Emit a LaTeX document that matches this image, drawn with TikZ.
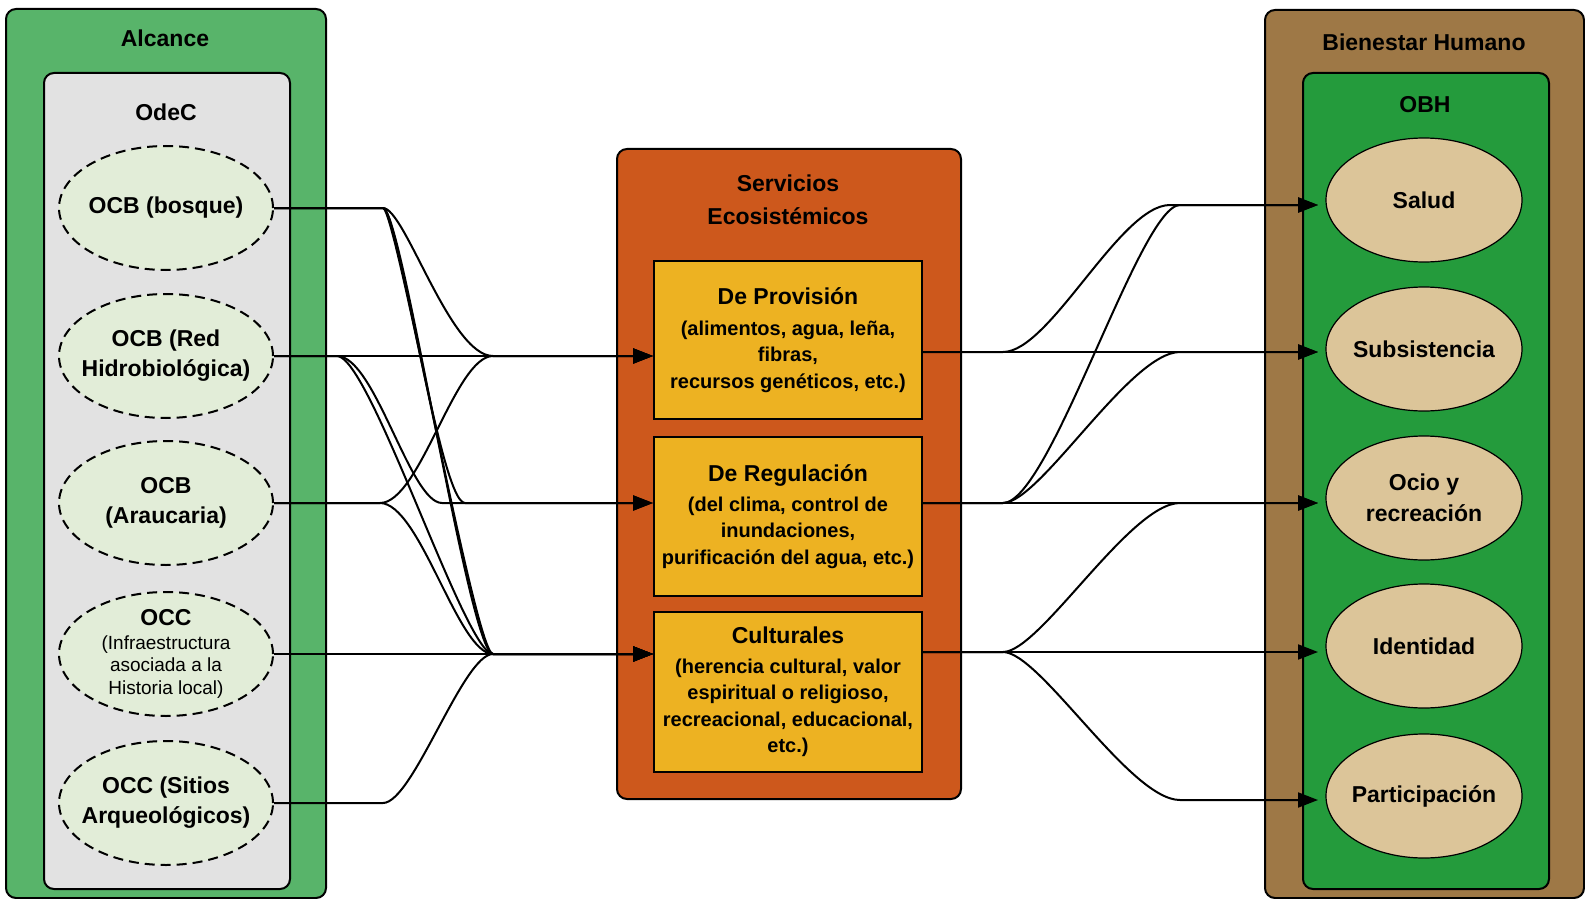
\documentclass[tikz,border=0pt]{standalone}
\usepackage{fontspec}
\setmainfont{Liberation Sans}
\usetikzlibrary{arrows.meta,shapes.geometric,calc}

\definecolor{alcgreen}{RGB}{88,180,106}
\definecolor{odecgrey}{RGB}{226,226,226}
\definecolor{srcfill}{RGB}{226,237,216}
\definecolor{seorange}{RGB}{205,88,28}
\definecolor{seyellow}{RGB}{237,178,34}
\definecolor{bhbrown}{RGB}{158,120,70}
\definecolor{obhgreen}{RGB}{36,155,60}
\definecolor{tan}{RGB}{220,197,153}

% font switches used inside multi-line nodes
\newcommand\svctitle{\bfseries\fontsize{11.5}{13.3}\selectfont}
\newcommand\smallnote{\mdseries\fontsize{9.5}{11.25}\selectfont}

\tikzset{
  panel/.style={draw=black, line width=1pt, rounded corners=5pt, inner sep=0pt, anchor=north west},
  svcbox/.style={draw=black, line width=1pt, fill=seyellow, inner sep=0pt, align=center,
    minimum width=134pt, font=\bfseries\fontsize{10}{13.3}\selectfont},
  heading/.style={font=\bfseries\fontsize{11.5}{16.5}\selectfont, align=center, inner sep=0pt},
  srcell/.style={ellipse, draw=black, dashed, dash pattern=on 5pt off 3pt, line width=1pt,
    fill=srcfill, minimum width=107pt, minimum height=62pt, inner xsep=-8pt, inner ysep=-4pt,
    align=center, font=\bfseries\fontsize{11.5}{15}\selectfont},
  bhell/.style={ellipse, draw=black, line width=0.6pt, fill=tan, minimum width=98pt,
    minimum height=62pt, inner xsep=-6pt, inner ysep=-4pt, align=center,
    font=\bfseries\fontsize{11.5}{15.5}\selectfont},
  conn/.style={draw=black, line width=1pt, -{Triangle[length=10pt,width=7.5pt]}},
}

\begin{document}
\begin{tikzpicture}[x=0.5pt,y=-0.5pt]
\useasboundingbox (0,0) rectangle (1585,899);

% ---------- left column: Alcance / OdeC ----------
\node[panel, fill=alcgreen, minimum width=160pt, minimum height=444.5pt] (alcance) at (5,8) {};
\node[heading] (alcanceT) at (165,38) {Alcance};
\node[panel, fill=odecgrey, minimum width=123pt, minimum height=408pt] (odec) at (43,72) {};
\node[heading] (odecT) at (166,112) {OdeC};

\node[srcell] (e1) at (166,208) {OCB (bosque)};
\node[srcell] (e2) at (166,356) {OCB (Red\\Hidrobiológica)};
\node[srcell] (e3) at (166,503) {OCB\\(Araucaria)};
\node[srcell, font=\smallnote] (e4) at (166,654)
  {{\bfseries\fontsize{11.5}{11.25}\selectfont OCC}\\[0.5pt]
   \smallnote (Infraestructura\\\smallnote asociada a la\\\smallnote Historia local)};
\node[srcell] (e5) at (166,803) {OCC (Sitios\\Arqueológicos)};

% ---------- middle column: Servicios Ecosistémicos ----------
\node[panel, fill=seorange, minimum width=172pt, minimum height=325pt] (se) at (616,148) {};
\node[heading] (seT) at (788,200) {Servicios\\Ecosistémicos};

\node[svcbox, minimum height=79pt] (prov) at (788,340)
  {{\svctitle De Provisión}\\[2pt]
   (alimentos, agua, leña,\\fibras,\\recursos genéticos, etc.)};
\node[svcbox, minimum height=79.5pt] (reg) at (788,516.5)
  {{\svctitle De Regulación}\\[1.5pt]
   (del clima, control de\\inundaciones,\\purificación del agua, etc.)};
\node[svcbox, minimum height=80pt] (cult) at (788,692)
  {{\svctitle Culturales}\\[1.5pt]
   (herencia cultural, valor\\espiritual o religioso,\\recreacional, educacional,\\etc.)};

% ---------- right column: Bienestar Humano / OBH ----------
\node[panel, fill=bhbrown, minimum width=159.5pt, minimum height=444pt] (bh) at (1264,9) {};
\node[heading] (bhT) at (1424,42) {Bienestar Humano};
\node[panel, fill=obhgreen, minimum width=123pt, minimum height=408pt] (obh) at (1302,72) {};
\node[heading] (obhT) at (1425,105) {OBH};

\node[bhell] (sal) at (1424,200) {Salud};
\node[bhell] (sub) at (1424,349) {Subsistencia};
\node[bhell] (oci) at (1424,498) {Ocio y\\recreación};
\node[bhell] (ide) at (1424,646) {Identidad};
\node[bhell] (par) at (1424,796) {Participación};

% ---------- connector points ----------
\coordinate (s1) at (383,208);
\coordinate (s2) at (337,356);
\coordinate (s3) at (380,503);
\coordinate (s5) at (383,803);
\coordinate (mP) at (493,356);
\coordinate (mR1) at (442,503);
\coordinate (mR2) at (465,503);
\coordinate (mC) at (493,654);
\coordinate (provIn) at (prov.west |- mP);
\coordinate (regIn) at (reg.west |- mR1);
\coordinate (cultIn) at (cult.west |- mC);

\coordinate (oP) at (1003,352);
\coordinate (oR) at (1003,503);
\coordinate (oC) at (1003,652);
\coordinate (provOut) at (prov.east |- oP);
\coordinate (regOut) at (reg.east |- oR);
\coordinate (cultOut) at (cult.east |- oC);
\coordinate (mSa1) at (1170,205);
\coordinate (mSa2) at (1180,205);
\coordinate (mSu) at (1180,352);
\coordinate (mOc) at (1180,503);
\coordinate (mPa) at (1180,800);
\coordinate (tSal) at (1318,205);
\coordinate (tSub) at (1318,352);
\coordinate (tOci) at (1318,503);
\coordinate (tIde) at (1318,652);
\coordinate (tPar) at (1318,800);

% ---------- objects -> services ----------
\draw[conn] (e1.east) -- (s1) .. controls +(22,0) and +(-43,0) .. (mP) -- (provIn);
\draw[conn] (e1.east) -- (s1) .. controls +(15,0) and +(-25,0) .. (mR2) -- (regIn);
\draw[conn] (e1.east) -- (s1) .. controls +(13,0) and +(-18,0) .. (mC) -- (cultIn);
\draw[conn] (e1.east) -- (s1) .. controls +(19,0) and +(-24,0) .. (mC) -- (cultIn);
\draw[conn] (e2.east) -- (provIn);
\draw[conn] (e2.east) -- (s2) .. controls +(38,0) and +(-32,0) .. (mR1) -- (regIn);
\draw[conn] (e2.east) -- (s2) .. controls +(33,0) and +(-28,0) .. (mC) -- (cultIn);
\draw[conn] (e3.east) -- (s3) .. controls +(40,0) and +(-38,0) .. (mP) -- (provIn);
\draw[conn] (e3.east) -- (s3) .. controls +(40,0) and +(-35,0) .. (mC) -- (cultIn);
\draw[conn] (e4.east) -- (cultIn);
\draw[conn] (e5.east) -- (s5) .. controls +(30,0) and +(-30,0) .. (mC) -- (cultIn);

% ---------- services -> well-being ----------
\draw[conn] (provOut) -- (tSub);
\draw[conn] (provOut) -- (oP) .. controls +(47,0) and +(-50,0) .. (mSa1) -- (tSal);
\draw[conn] (regOut) -- (tOci);
\draw[conn] (regOut) -- (oR) .. controls +(47,0) and +(-40,0) .. (mSa2) -- (tSal);
\draw[conn] (regOut) -- (oR) .. controls +(37,0) and +(-50,0) .. (mSu) -- (tSub);
\draw[conn] (cultOut) -- (tIde);
\draw[conn] (cultOut) -- (oC) .. controls +(37,0) and +(-50,0) .. (mOc) -- (tOci);
\draw[conn] (cultOut) -- (oC) .. controls +(37,0) and +(-50,0) .. (mPa) -- (tPar);
\end{tikzpicture}
\end{document}
